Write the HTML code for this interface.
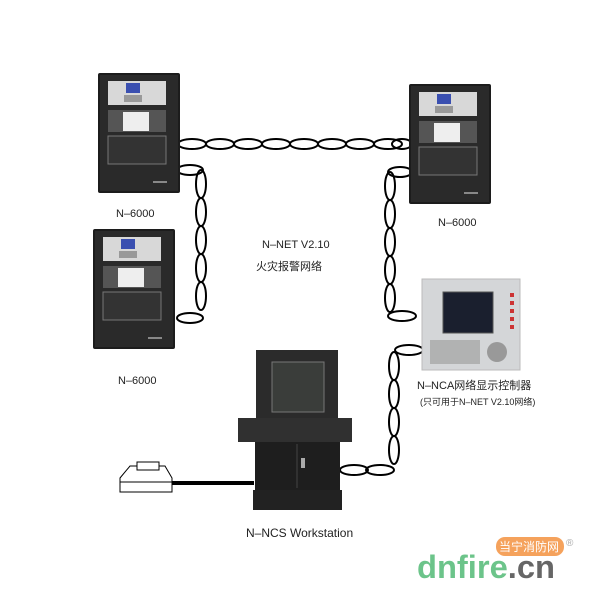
<!DOCTYPE html><html><head><style>body{margin:0;background:#fff}svg{display:block}text{font-family:"Liberation Sans","Noto Sans CJK SC",sans-serif;fill:#222}</style></head><body>
<svg width="600" height="600" viewBox="0 0 600 600">
<defs>
<g id="panel">
<rect x="0" y="0" width="82" height="120" fill="#1c1c1c" rx="2"/>
<rect x="2" y="2" width="78" height="116" fill="#2a2a2a"/>
<rect x="10" y="8" width="58" height="24" fill="#d8d8d8"/>
<rect x="28" y="10" width="14" height="10" fill="#3a4fb0"/>
<rect x="26" y="22" width="18" height="7" fill="#999"/>
<rect x="10" y="37" width="58" height="22" fill="#555"/>
<rect x="25" y="39" width="26" height="19" fill="#eee"/>
<rect x="10" y="63" width="58" height="28" fill="#333" stroke="#777" stroke-width="1"/>
<rect x="55" y="108" width="14" height="2" fill="#888"/>
</g>
</defs>
<g fill="none" stroke="#000" stroke-width="2">
<ellipse cx="192" cy="144" rx="14" ry="5"/><ellipse cx="220" cy="144" rx="14" ry="5"/><ellipse cx="248" cy="144" rx="14" ry="5"/><ellipse cx="276" cy="144" rx="14" ry="5"/><ellipse cx="304" cy="144" rx="14" ry="5"/><ellipse cx="332" cy="144" rx="14" ry="5"/><ellipse cx="360" cy="144" rx="14" ry="5"/><ellipse cx="388" cy="144" rx="14" ry="5"/><ellipse cx="402" cy="144" rx="10" ry="5"/>
<ellipse cx="190" cy="170" rx="13" ry="5"/>
<ellipse cx="201" cy="184" rx="5" ry="14"/><ellipse cx="201" cy="212" rx="5" ry="14"/><ellipse cx="201" cy="240" rx="5" ry="14"/><ellipse cx="201" cy="268" rx="5" ry="14"/><ellipse cx="201" cy="296" rx="5" ry="14"/>
<ellipse cx="190" cy="318" rx="13" ry="5"/>
<ellipse cx="400" cy="172" rx="12" ry="5"/>
<ellipse cx="390" cy="186" rx="5" ry="14"/><ellipse cx="390" cy="214" rx="5" ry="14"/><ellipse cx="390" cy="242" rx="5" ry="14"/><ellipse cx="390" cy="270" rx="5" ry="14"/><ellipse cx="390" cy="298" rx="5" ry="14"/>
<ellipse cx="402" cy="316" rx="14" ry="5"/>
<ellipse cx="409" cy="350" rx="14" ry="5"/>
<ellipse cx="394" cy="366" rx="5" ry="14"/><ellipse cx="394" cy="394" rx="5" ry="14"/><ellipse cx="394" cy="422" rx="5" ry="14"/><ellipse cx="394" cy="450" rx="5" ry="14"/>
<ellipse cx="354" cy="470" rx="14" ry="5"/><ellipse cx="380" cy="470" rx="14" ry="5"/>
</g>
<use href="#panel" x="98" y="73"/>
<use href="#panel" x="93" y="229"/>
<use href="#panel" x="409" y="84"/>
<rect x="422" y="279" width="98" height="91" fill="#d4d6d8" stroke="#bbb"/>
<rect x="443" y="292" width="50" height="41" fill="#1a1f2e" stroke="#555"/>
<g fill="#c33"><rect x="510" y="293" width="4" height="4"/><rect x="510" y="301" width="4" height="4"/><rect x="510" y="309" width="4" height="4"/><rect x="510" y="317" width="4" height="4"/><rect x="510" y="325" width="4" height="4"/></g>
<rect x="430" y="340" width="50" height="24" fill="#999" opacity=".6"/>
<circle cx="497" cy="352" r="10" fill="#999"/>
<rect x="256" y="350" width="82" height="70" fill="#2b2b2b"/>
<rect x="272" y="362" width="52" height="50" fill="#3a3d3a" stroke="#777"/>
<rect x="238" y="418" width="114" height="24" fill="#303030"/>
<rect x="255" y="442" width="85" height="48" fill="#1e1e1e"/>
<line x1="297" y1="444" x2="297" y2="488" stroke="#444"/>
<rect x="301" y="458" width="4" height="10" fill="#aaa"/>
<rect x="253" y="490" width="89" height="20" fill="#222"/>
<rect x="172" y="481" width="82" height="4" fill="#000"/>
<path d="M120 478 L130 466 L165 466 L172 478 L172 492 L120 492 Z" fill="#fff" stroke="#000"/>
<rect x="137" y="462" width="22" height="8" fill="#fff" stroke="#000"/>
<line x1="120" y1="482" x2="172" y2="482" stroke="#000"/>
<g font-size="11">
<text x="116" y="217">N–6000</text>
<text x="118" y="384">N–6000</text>
<text x="438" y="226">N–6000</text>
<text x="262" y="248">N–NET V2.10</text>
<text x="256" y="270">火灾报警网络</text>
<text x="417" y="389">N–NCA网络显示控制器</text>
<text x="420" y="405" font-size="9">(只可用于N–NET V2.10网络)</text>
<text x="246" y="537" font-size="12">N–NCS Workstation</text>
</g>
<rect x="496" y="537" width="68" height="19" rx="9" fill="#f5a25c"/>
<text x="499" y="551" font-size="12" style="fill:#fff">当宁消防网</text>
<text x="566" y="546" font-size="10" style="fill:#aaa">®</text>
<text x="417" y="578" font-size="32" font-weight="bold" style="fill:#6cc48a" textLength="138" lengthAdjust="spacingAndGlyphs">dnfire<tspan style="fill:#666">.cn</tspan></text>
</svg>
</body></html>
